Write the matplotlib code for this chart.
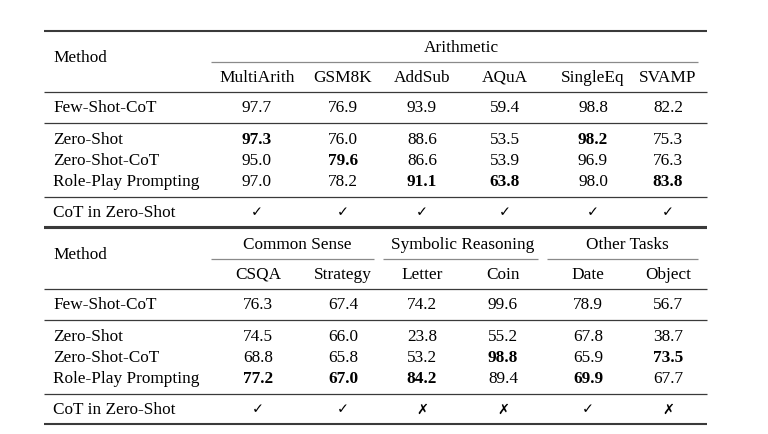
import matplotlib
matplotlib.use('Agg')
import matplotlib.pyplot as plt

# table data
methods = ['Few-Shot-CoT', 'Zero-Shot', 'Zero-Shot-CoT', 'Role-Play Prompting']
cot_label = 'CoT in Zero-Shot'

top_group = 'Arithmetic'
top_cols = ['MultiArith', 'GSM8K', 'AddSub', 'AQuA', 'SingleEq', 'SVAMP']
top_values = [
    ['97.7', '76.9', '93.9', '59.4', '98.8', '82.2'],
    ['97.3', '76.0', '88.6', '53.5', '98.2', '75.3'],
    ['95.0', '79.6', '86.6', '53.9', '96.9', '76.3'],
    ['97.0', '78.2', '91.1', '63.8', '98.0', '83.8'],
]
top_bold = [
    [0, 0, 0, 0, 0, 0],
    [1, 0, 0, 0, 1, 0],
    [0, 1, 0, 0, 0, 0],
    [0, 0, 1, 1, 0, 1],
]
top_cot = ['✓', '✓', '✓', '✓', '✓', '✓']

bottom_groups = ['Common Sense', 'Symbolic Reasoning', 'Other Tasks']
bottom_cols = ['CSQA', 'Strategy', 'Letter', 'Coin', 'Date', 'Object']
bottom_values = [
    ['76.3', '67.4', '74.2', '99.6', '78.9', '56.7'],
    ['74.5', '66.0', '23.8', '55.2', '67.8', '38.7'],
    ['68.8', '65.8', '53.2', '98.8', '65.9', '73.5'],
    ['77.2', '67.0', '84.2', '89.4', '69.9', '67.7'],
]
bottom_bold = [
    [0, 0, 0, 0, 0, 0],
    [0, 0, 0, 0, 0, 0],
    [0, 0, 0, 1, 0, 1],
    [1, 1, 1, 0, 1, 0],
]
bottom_cot = ['✓', '✓', '✗', '✗', '✓', '✗']

# layout (pixels)
W, H = 768, 435
x_left, x_right = 44, 707
x_method = 53
top_xs = [257, 343, 422, 505, 593, 668]
bottom_xs = [258, 343, 422, 503, 588, 668]
fs = 12.4
fam = ['Liberation Serif', 'DejaVu Sans']
line_col = '#3a3a3a'

fig = plt.figure(figsize=(W / 100, H / 100), dpi=100)
ax = fig.add_axes([0, 0, 1, 1])
ax.set_xlim(0, W)
ax.set_ylim(H, 0)
ax.axis('off')


def hline(y, x0=x_left, x1=x_right, lw=0.9, color=line_col):
    ax.plot([x0, x1], [y, y], color=color, lw=lw, solid_capstyle='butt')


def txt(x, y, s, ha='center', bold=False, size=fs):
    ax.text(x, y, s, ha=ha, va='center', fontsize=size, family=fam,
            fontweight='bold' if bold else 'normal', color='black')


def draw_block(y0, groups, spans, group_xs, cols, col_xs, values, bold, cot, top_lw):
    # y0 = top rule
    hline(y0, lw=top_lw)
    txt(x_method, y0 + 26, 'Method', ha='left')
    for g, gx, (sx0, sx1) in zip(groups, group_xs, spans):
        txt(gx, y0 + 16, g)
        hline(y0 + 31, sx0, sx1, lw=0.9, color='#8a8a8a')
    for c, cx in zip(cols, col_xs):
        txt(cx, y0 + 46, c)
    hline(y0 + 61)
    # few-shot row
    row_ys = [y0 + 76, y0 + 108, y0 + 129, y0 + 150]
    for i, (m, ry) in enumerate(zip(methods, row_ys)):
        txt(x_method, ry, m, ha='left')
        for j, cx in enumerate(col_xs):
            txt(cx, ry, values[i][j], bold=bool(bold[i][j]))
    hline(y0 + 92)
    hline(y0 + 166)
    txt(x_method, y0 + 181, cot_label, ha='left')
    for j, cx in enumerate(col_xs):
        bold_mark = cot[j] == '✗'
        txt(cx, y0 + 181, cot[j], bold=bold_mark, size=fs - 2)
    hline(y0 + 196, lw=1.5)


draw_block(32, [top_group], [(211, 698)], [461], top_cols, top_xs,
           top_values, top_bold, top_cot, 1.5)
draw_block(229, bottom_groups, [(211, 374), (383, 538), (547, 698)],
           [297, 463, 627], bottom_cols, bottom_xs,
           bottom_values, bottom_bold, bottom_cot, 1.5)

fig.savefig('out.png', dpi=100, facecolor='white')
